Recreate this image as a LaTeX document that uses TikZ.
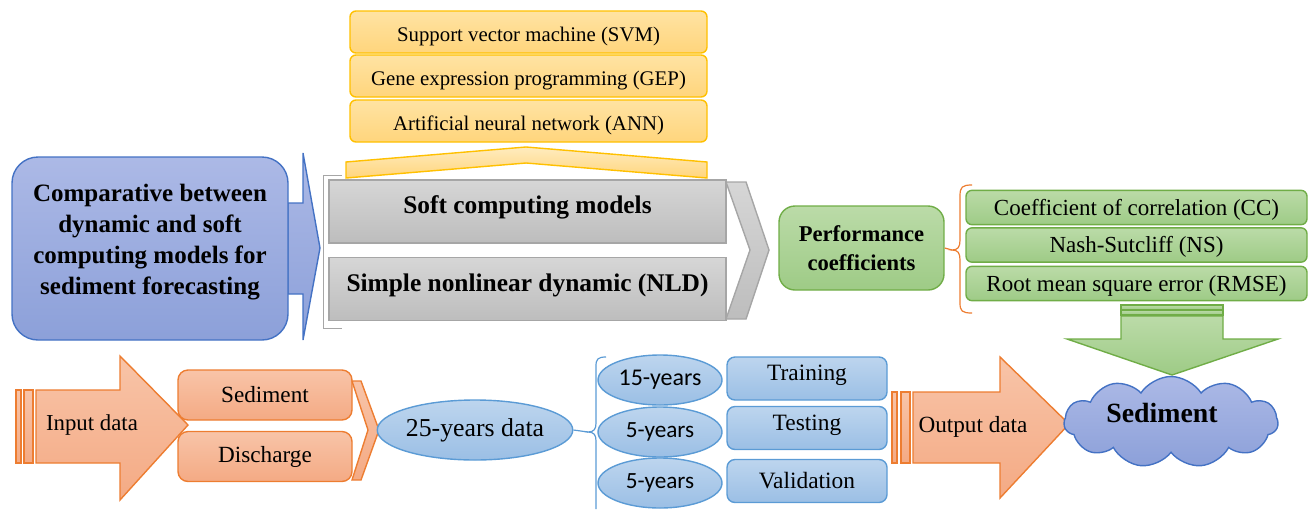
\documentclass[tikz,border=0pt]{standalone}
\usepackage{fontspec}
\setmainfont{Liberation Serif}
\newfontfamily\calibri{Carlito}
\usetikzlibrary{shapes.geometric,shapes.symbols}

\definecolor{blueline}{HTML}{4472C4}
\definecolor{bluetop}{HTML}{ACB9E6}
\definecolor{bluebot}{HTML}{8CA0D9}
\definecolor{skyline}{HTML}{5B9BD5}
\definecolor{skytop}{HTML}{BDD5EE}
\definecolor{skybot}{HTML}{9BBFE5}
\definecolor{orline}{HTML}{ED7D31}
\definecolor{ortop}{HTML}{F8C4A8}
\definecolor{orbot}{HTML}{F4AA84}
\definecolor{yelline}{HTML}{FFC000}
\definecolor{yeltop}{HTML}{FFE3A3}
\definecolor{yelbot}{HTML}{FFD57C}
\definecolor{grline}{HTML}{70AD47}
\definecolor{grtop}{HTML}{BBDBA8}
\definecolor{grbot}{HTML}{9ECB86}
\definecolor{gyline}{HTML}{A6A6A6}
\definecolor{gytop}{HTML}{D6D6D6}
\definecolor{gybot}{HTML}{BDBDBD}

\begin{document}
\begin{tikzpicture}[x=0.5pt,y=-0.5pt,line width=0.7pt,
    yelbox/.style={draw=yelline,top color=yeltop,bottom color=yelbot,rounded corners=3pt,
        minimum width=178.5pt,minimum height=21pt,text height=10pt,text depth=0.5pt,
        font=\fontsize{10.4}{12}\selectfont},
    greybox/.style={draw=gyline,top color=gytop,bottom color=gybot,
        minimum width=198.5pt,minimum height=31.5pt,text height=9pt,text depth=7pt,
        font=\fontsize{12.7}{14}\selectfont\bfseries},
    grbox/.style={draw=grline,top color=grtop,bottom color=grbot,rounded corners=3pt,
        minimum width=170.5pt,minimum height=16.5pt,text height=9pt,text depth=1.5pt,
        font=\fontsize{11.5}{13}\selectfont},
    orbox/.style={draw=orline,top color=ortop,bottom color=orbot,rounded corners=5pt,
        minimum width=87pt,minimum height=25pt,font=\fontsize{11.6}{13}\selectfont},
    skybox/.style={draw=skyline,top color=skytop,bottom color=skybot,rounded corners=4pt,
        minimum width=80pt,minimum height=21.5pt,font=\fontsize{11.7}{13}\selectfont},
    yearell/.style={ellipse,draw=skyline,top color=skytop,bottom color=skybot,
        minimum width=62pt,minimum height=25pt,inner sep=0pt,font=\calibri\fontsize{12}{14}\selectfont},
    ]
\useasboundingbox (0,0) rectangle (1309,509);

%-------------------------------------------- Main topic
\draw[blueline,top color=bluetop,bottom color=bluebot]
    (288,203)--(303,203)--(303,153)--(320,248)--(303,340)--(303,294)--(288,294)--cycle; % thin arrow
\node[draw=blueline,top color=bluetop,bottom color=bluebot,rounded corners=13pt,
      minimum width=138pt,minimum height=91.5pt,align=center,text depth=9pt,
      font=\fontsize{12.5}{15.5}\selectfont\bfseries] (topic) at (150,248.5)
      {Comparative between\\dynamic and soft\\computing models for\\sediment forecasting};

%-------------------------------------------- Soft computing models
\node[yelbox] (svm) at (528.5,32) {Support vector machine (SVM)};
\node[yelbox] (gep) at (528.5,76) {Gene expression programming (GEP)};
\node[yelbox] (ann) at (528.5,121) {Artificial neural network (ANN)};
\draw[yelline,top color=yeltop!70,bottom color=yelbot]
    (346,178)--(346,162)--(526,147)--(707,162)--(707,178)--(526,163)--cycle; % wide chevron

% Bracket and the two families
\draw[gyline,line width=0.5pt] (342,175)--(323,175)--(323,328)--(342,328);
\draw[gyline,top color=gytop,bottom color=gybot]
    (726,182)--(746,182)--(769,250)--(746,319)--(726,319)--(750,250)--cycle;
\node[greybox] (soft) at (527.5,211.5) {Soft computing models};
\node[greybox] (nld) at (527.5,289) {Simple nonlinear dynamic (NLD)};

%-------------------------------------------- Performance coefficients
\node[draw=grline,top color=grtop,bottom color=grbot,rounded corners=8pt,
      minimum width=82.5pt,minimum height=42pt,align=center,
      font=\fontsize{11.3}{14.5}\selectfont\bfseries] (perf) at (861.5,248)
      {Performance\\coefficients};
\coordinate (btip) at (952,250);
\draw[orline,line width=0.6pt] (972,185) .. controls (962,185) and (960,187) .. (960,196)
    -- (960,240) .. controls (960,247) and (958,250) .. (btip)
    .. controls (958,250) and (960,253) .. (960,260)
    -- (960,303) .. controls (960,311) and (962,313) .. (972,313); % brace
\draw[orline,line width=0.6pt] (perf.east) -- (btip);
\node[grbox] (cc) at (1136.5,207.5) {Coefficient of correlation (CC)};
\node[grbox] (ns) at (1136.5,245) {Nash-Sutcliff (NS)};
\node[grbox] (rmse) at (1136.5,283.5) {Root mean square error (RMSE)};

% Striped arrow down
\draw[grline,top color=grtop,bottom color=grbot] (1121,305) rectangle (1223,310);
\draw[grline,top color=grtop,bottom color=grbot] (1121,310) rectangle (1223,315);
\draw[grline,top color=grtop,bottom color=grbot]
    (1121,316)--(1223,316)--(1223,339)--(1278,339)--(1172,375)--(1067,339)--(1121,339)--cycle;

%-------------------------------------------- Input data
\draw[orline,top color=ortop,bottom color=orbot] (16,390) rectangle (21,463);
\draw[orline,top color=ortop,bottom color=orbot] (24,390) rectangle (33,463);
\draw[orline,top color=ortop,bottom color=orbot]
    (36,390)--(120,390)--(120,356)--(188,425)--(120,500)--(120,463)--(36,463)--cycle;
\node[font=\fontsize{11.4}{13}\selectfont] (indata) at (92,425) {Input data};
\node[orbox] (sed) at (265,395) {Sediment};
\node[orbox] (dis) at (265,456.5) {Discharge};
\draw[orline,top color=ortop,bottom color=orbot]
    (352,381)--(361,381)--(379,430)--(361,480)--(352,480)--(368,430)--cycle;

%-------------------------------------------- Data split
\node[ellipse,draw=skyline,top color=skytop,bottom color=skybot,minimum width=97pt,
      minimum height=30pt,inner sep=0pt,font=\fontsize{12.9}{14}\selectfont] (all) at (475,430)
      {25-years data};
\coordinate (stip) at (588,432);
\draw[skyline,line width=0.6pt] (606,357) .. controls (598,357) and (596,359) .. (596,366)
    -- (596,423) .. controls (596,429) and (594,432) .. (stip)
    .. controls (594,432) and (596,435) .. (596,441) -- (596,509); % brace
\draw[skyline,line width=0.6pt] (all.east) -- (stip);
\node[yearell] (y15) at (660,380) {15-years};
\node[yearell,font=\calibri\fontsize{11.6}{14}\selectfont] (y5a) at (660,432) {5-years};
\node[yearell,font=\calibri\fontsize{11.6}{14}\selectfont] (y5b) at (660,483) {5-years};
\node[skybox,text height=8pt,text depth=6pt] (train) at (807,378.5) {Training};
\node[skybox,text height=8pt,text depth=6pt] (test) at (807,428) {Testing};
\node[skybox] (valid) at (807,481) {Validation};

%-------------------------------------------- Output data
\draw[orline,top color=ortop,bottom color=orbot] (892,392) rectangle (897,463);
\draw[orline,top color=ortop,bottom color=orbot] (901,392) rectangle (910,463);
\draw[orline,top color=ortop,bottom color=orbot]
    (913,392)--(1000,392)--(1000,357)--(1069,424)--(1000,498)--(1000,463)--(913,463)--cycle;
\node[font=\fontsize{11.6}{13}\selectfont] (outdata) at (973,427) {Output data};
\node[cloud,cloud puffs=11,cloud puff arc=115,aspect=2.4,draw=blueline,
      top color=bluetop,bottom color=bluebot,minimum width=107pt,minimum height=45.5pt,
      inner sep=0pt] (cloudsed) at (1171,422) {};
\node[font=\fontsize{13.9}{15}\selectfont\bfseries] (sedout) at (1162,413) {Sediment};

\end{tikzpicture}
\end{document}
